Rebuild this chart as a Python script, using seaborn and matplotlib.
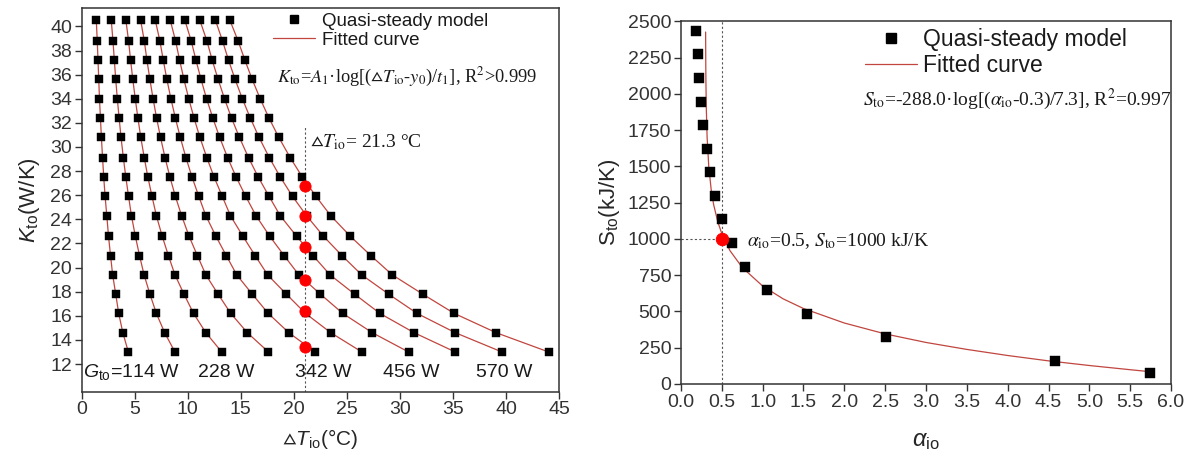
import numpy as np
import pandas as pd
import matplotlib
matplotlib.use("Agg")
import matplotlib.pyplot as plt
import seaborn as sns
from matplotlib.lines import Line2D

# ---------------- left panel data ----------------
# K_to rows of the quasi-steady grid, bottom to top (W/K)
k_rows = [13.0, 14.6, 16.2, 17.8, 19.4, 21.0, 22.6, 24.3, 25.9,
          27.5, 29.1, 30.8, 32.4, 34.0, 35.6, 37.2, 38.8, 40.5]

# delta T_io for each G_to curve, same order as k_rows
dt_g57 = [4.40, 3.88, 3.49, 3.21, 2.92, 2.72, 2.53, 2.37, 2.21,
          2.08, 1.97, 1.86, 1.77, 1.68, 1.61, 1.54, 1.47, 1.38]
dt_g114 = [8.79, 7.82, 7.04, 6.43, 5.88, 5.45, 5.06, 4.69, 4.42,
           4.16, 3.93, 3.71, 3.53, 3.36, 3.21, 3.08, 2.95, 2.79]
dt_g171 = [13.2, 11.70, 10.54, 9.64, 8.79, 8.17, 7.59, 7.04, 6.63,
           6.24, 5.90, 5.57, 5.30, 5.05, 4.82, 4.61, 4.42, 4.17]
dt_g228 = [17.6, 15.61, 14.05, 12.85, 11.70, 10.90, 10.12, 9.42, 8.83,
           8.32, 7.86, 7.43, 7.06, 6.73, 6.43, 6.15, 5.90, 5.56]
dt_g285 = [22.0, 19.52, 17.58, 16.07, 14.61, 13.62, 12.65, 11.70, 11.04,
           10.40, 9.83, 9.29, 8.83, 8.41, 8.03, 7.69, 7.37, 6.94]
dt_g342 = [26.4, 23.47, 21.09, 19.28, 17.52, 16.34, 15.19, 14.02, 13.25,
           12.48, 11.80, 11.14, 10.59, 10.09, 9.64, 9.23, 8.85, 8.35]
dt_g399 = [30.8, 27.38, 24.60, 22.49, 20.46, 19.07, 17.72, 16.43, 15.46,
           14.56, 13.76, 13.00, 12.36, 11.77, 11.25, 10.77, 10.32, 9.73]
dt_g456 = [35.2, 31.32, 28.10, 25.71, 23.40, 21.79, 20.25, 18.71, 17.66,
           16.64, 15.73, 14.86, 14.12, 13.46, 12.86, 12.30, 11.80, 11.14]
dt_g513 = [39.6, 35.20, 31.60, 28.92, 26.38, 24.52, 22.78, 21.19, 19.87,
           18.72, 17.69, 16.71, 15.89, 15.14, 14.46, 13.84, 13.27, 12.61]
dt_g570 = [44.0, 39.05, 35.10, 32.13, 29.26, 27.24, 25.31, 23.47, 22.08,
           20.80, 19.66, 18.57, 17.65, 16.82, 16.07, 15.38, 14.74, 13.97]

g_curves = [57, 114, 171, 228, 285, 342, 399, 456, 513, 570]
dt_curves = [dt_g57, dt_g114, dt_g171, dt_g228, dt_g285,
             dt_g342, dt_g399, dt_g456, dt_g513, dt_g570]

# operating points on the delta T_io = 21.3 line
dot_dt = [21.0, 21.0, 21.0, 21.0, 21.0, 21.0]
dot_k = [13.45, 16.40, 18.97, 21.72, 24.26, 26.80]
dt_mark = 21.0
dt_mark_top = 31.7

g_label_x = [0.15, 10.96, 20.08, 28.4, 37.2]
g_label_text = [r"$G_{\rm to}$=114 W", "228 W", "342 W", "456 W", "570 W"]

# ---------------- right panel data ----------------
alpha_pts = [0.184, 0.204, 0.224, 0.245, 0.273, 0.315, 0.355, 0.416,
             0.498, 0.620, 0.784, 1.057, 1.547, 2.506, 4.58, 5.74]
s_pts = [2437, 2276, 2112, 1947, 1784, 1623, 1462, 1297,
         1136, 970, 809, 648, 485, 322, 159, 78]

# fitted curve
fit_alpha = [0.3016, 0.303, 0.305, 0.31, 0.32, 0.34, 0.37, 0.40, 0.45, 0.50,
             0.60, 0.75, 1.0, 1.25, 1.5, 2.0, 2.5, 3.0, 3.5, 4.0, 4.5, 5.0,
             5.5, 5.75]
fit_s = [2427, 2245, 2098, 1899, 1699, 1500, 1338, 1236, 1119, 1036,
         919, 803, 675, 587, 520, 420, 345, 286, 238, 196, 159, 127,
         98, 84]

sel_alpha = [0.5]
sel_s = [1000]

# long-form table for seaborn
left_df = pd.DataFrame({
    "G": np.repeat(g_curves, len(k_rows)),
    "K": np.tile(k_rows, len(g_curves)),
    "dT": np.concatenate(dt_curves),
})
right_df = pd.DataFrame({"alpha": alpha_pts, "S": s_pts})
fit_df = pd.DataFrame({"alpha": fit_alpha, "S": fit_s})

# ---------------- style ----------------
sns.set_style("ticks")
plt.rcParams["font.family"] = ["Liberation Sans", "DejaVu Sans"]
plt.rcParams["mathtext.fontset"] = "custom"
plt.rcParams["mathtext.rm"] = "Liberation Sans"
plt.rcParams["mathtext.it"] = "Liberation Sans:italic"
plt.rcParams["mathtext.bf"] = "Liberation Sans:bold"
plt.rcParams["mathtext.fallback"] = "stixsans"
plt.rcParams["axes.edgecolor"] = "#333333"
plt.rcParams["axes.linewidth"] = 1.1
plt.rcParams["xtick.color"] = "#333333"
plt.rcParams["ytick.color"] = "#333333"
plt.rcParams["text.color"] = "#1a1a1a"

line_red = "#c0463f"
serif = ["Liberation Serif", "DejaVu Sans"]
tri = r"\vartriangle"

fig = plt.figure(figsize=(11.92, 4.62), dpi=100)
ax1 = fig.add_axes([0.0685, 0.152, 0.4007, 0.830])
ax2 = fig.add_axes([0.5713, 0.169, 0.4111, 0.7846])

# ---------------- left panel ----------------
sns.lineplot(data=left_df, x="dT", y="K", units="G", estimator=None,
             sort=False, color=line_red, linewidth=0.9, ax=ax1, legend=False)
sns.scatterplot(data=left_df, x="dT", y="K", marker="s", s=40,
                color="black", edgecolor="black", linewidth=0.3,
                ax=ax1, legend=False, zorder=3)
ax1.vlines(dt_mark, 9.7, dt_mark_top, colors="#555555", linewidth=0.8,
           linestyles=(0, (2, 2)), zorder=2)
sns.scatterplot(x=dot_dt, y=dot_k, marker="o", s=65, color="red",
                edgecolor="red", ax=ax1, legend=False, zorder=4)

ax1.set_xlim(0, 45)
ax1.set_ylim(9.7, 41.5)
ax1.set_xticks(range(0, 46, 5))
ax1.set_yticks(range(12, 41, 2))
ax1.set_xlabel(r"$" + tri + r" T_{\rm io}$(°C)", fontsize=15, labelpad=6)
ax1.set_ylabel(r"$K_{\rm to}$(W/K)", fontsize=16, labelpad=6)

for gx, gt in zip(g_label_x, g_label_text):
    ax1.text(gx, 11.3, gt, fontsize=14, ha="left", va="center")

ax1.text(18.36, 35.4,
         r"$K_{\rm to}$=$A_{1}$·log[($" + tri + r" T_{\rm io}$-$y_{0}$)/$t_{1}$], R$^{2}$>0.999",
         fontsize=13.2, family=serif, math_fontfamily="stix", va="baseline")
ax1.text(21.5, 30.0, r"$" + tri + r" T_{\rm io}$= 21.3 °C", fontsize=14,
         family=serif, math_fontfamily="stix", va="baseline")

handles = [Line2D([], [], marker="s", ls="", color="black", markersize=6.3),
           Line2D([], [], color=line_red, linewidth=0.9)]
ax1.legend(handles, ["Quasi-steady model", "Fitted curve"], loc="upper left",
           bbox_to_anchor=(0.40, 0.988), frameon=False, fontsize=13.5,
           borderpad=0, borderaxespad=0, handlelength=2.24,
           handletextpad=0.37, labelspacing=0.1)

# ---------------- right panel ----------------
sns.lineplot(data=fit_df, x="alpha", y="S", sort=False, color=line_red,
             linewidth=0.9, ax=ax2, legend=False)
sns.scatterplot(data=right_df, x="alpha", y="S", marker="s", s=48,
                color="black", edgecolor="black", linewidth=0.3,
                ax=ax2, legend=False, zorder=3)
ax2.vlines(sel_alpha, 0, 2500, colors="#555555", linewidth=0.8,
           linestyles=(0, (2, 2)), zorder=2)
ax2.hlines(sel_s, 0, sel_alpha, colors="#555555", linewidth=0.8,
           linestyles=(0, (2, 2)), zorder=2)
sns.scatterplot(x=sel_alpha, y=sel_s, marker="o", s=80, color="red",
                edgecolor="red", ax=ax2, legend=False, zorder=4)

ax2.set_xlim(0, 6)
ax2.set_ylim(0, 2500)
ax2.set_xticks(np.arange(0, 6.01, 0.5))
ax2.set_xticklabels([f"{v:.1f}" for v in np.arange(0, 6.01, 0.5)])
ax2.set_yticks(range(0, 2501, 250))
ax2.set_xlabel(r"$\alpha_{\rm io}$", fontsize=17, labelpad=14)
ax2.set_ylabel(r"S$_{\rm to}$(kJ/K)", fontsize=16, labelpad=4)

ax2.text(2.232, 1924,
         r"$S_{\rm to}$=-288.0·log[($\alpha_{\rm io}$-0.3)/7.3], R$^{2}$=0.997",
         fontsize=14, family=serif, math_fontfamily="stix", va="baseline")
ax2.text(0.804, 954, r"$\alpha_{\rm io}$=0.5, $S_{\rm to}$=1000 kJ/K",
         fontsize=14, family=serif, math_fontfamily="stix", va="baseline")

handles2 = [Line2D([], [], marker="s", ls="", color="black", markersize=6.9),
            Line2D([], [], color=line_red, linewidth=0.9)]
ax2.legend(handles2, ["Quasi-steady model", "Fitted curve"], loc="upper left",
           bbox_to_anchor=(0.3755, 0.982), frameon=False, fontsize=16.5,
           borderpad=0, borderaxespad=0, handlelength=2.27,
           handletextpad=0.26, labelspacing=0.12)

for ax in (ax1, ax2):
    for side in ("top", "right", "left", "bottom"):
        ax.spines[side].set_visible(True)
    ax.tick_params(axis="both", direction="out", length=5, width=1,
                   labelsize=14, pad=2, top=False, right=False)

fig.savefig("out.png", dpi=100)
